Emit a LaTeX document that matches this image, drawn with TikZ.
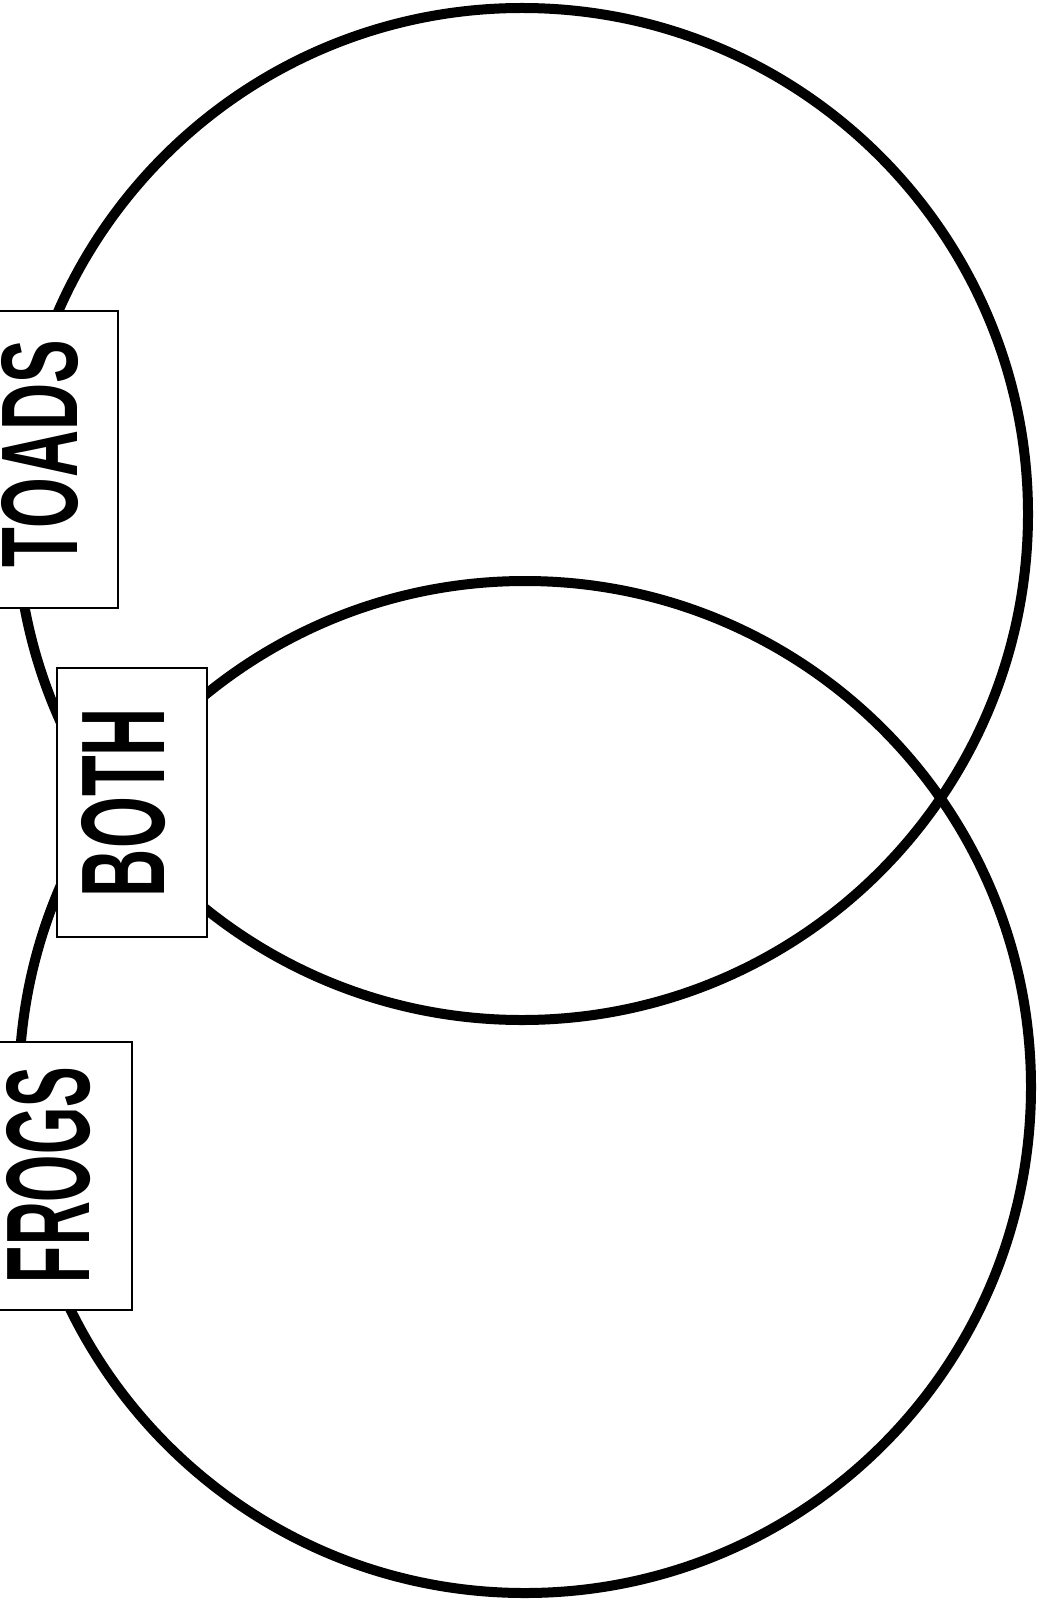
\documentclass[tikz,border=0pt]{standalone}
\usepackage{fontspec}
\setmainfont{Liberation Sans}
\usepackage{graphicx}
\tikzset{
  ring/.style={line width=10pt, draw=black},
  labelbox/.style={draw=black, fill=white, line width=2pt, inner sep=0pt},
  labeltext/.style={rotate=90, inner sep=0pt, font=\bfseries}
}
\begin{document}
\begin{tikzpicture}[x=1pt,y=-1pt]
\useasboundingbox[fill=white] (0,0) rectangle (1047,1602);
\draw[ring] (522,514) circle[radius=506];
\draw[ring] (525,1087) circle[radius=506];
\node[labelbox, minimum width=123pt, minimum height=297pt] (toadsbox) at (56.5,459.5) {};
\node[labelbox, minimum width=150pt, minimum height=269pt] (bothbox) at (132,802.5) {};
\node[labelbox, minimum width=137pt, minimum height=268pt] (frogsbox) at (63.5,1176) {};
\node[labeltext] (toads) at (40,453.5) {\resizebox{227pt}{76pt}{TOADS}};
\node[labeltext] (both) at (123.5,802.5) {\resizebox{189pt}{83pt}{BOTH}};
\node[labeltext] (frogs) at (48.5,1175) {\resizebox{216pt}{83pt}{FROGS}};
\end{tikzpicture}
\end{document}
